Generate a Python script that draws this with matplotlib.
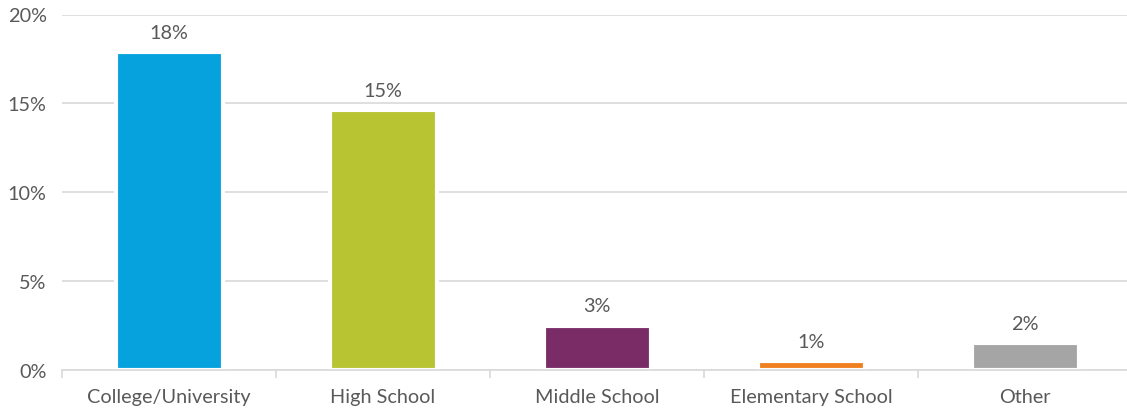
import matplotlib.pyplot as plt
from matplotlib.ticker import FuncFormatter

categories = [
    "College/University",
    "High School",
    "Middle School",
    "Elementary School",
    "Other",
]
shares = [17.9, 14.6, 2.5, 0.5, 1.5]
share_labels = ["18%", "15%", "3%", "1%", "2%"]
bar_colors = ["#05A2DD", "#B8C432", "#7A2C67", "#F07F20", "#A5A5A5"]
y_ticks = [0, 5, 10, 15, 20]

text_color = "#595959"
line_color = "#D9D9D9"
font_size = 14.3

plt.rcParams["font.family"] = ["Lato", "DejaVu Sans"]


def main():
    figure = plt.figure(figsize=(11.27, 4.10), dpi=100)
    width_px, height_px = 1127, 410
    axis = figure.add_axes([
        62 / width_px,
        (height_px - 371) / height_px,
        1070 / width_px,
        355.5 / height_px,
    ])

    positions = range(len(categories))
    axis.bar(
        positions,
        shares,
        width=0.5,
        color=bar_colors,
        edgecolor="white",
        linewidth=3,
        zorder=2,
    )

    for position, value, label in zip(positions, shares, share_labels):
        axis.annotate(
            label,
            (position, value),
            xytext=(0, 8),
            textcoords="offset points",
            ha="center",
            va="bottom",
            fontsize=font_size,
            color=text_color,
        )

    axis.set_xlim(-0.5, len(categories) - 0.5)
    axis.set_ylim(0, 20)
    axis.set_yticks(y_ticks)
    axis.yaxis.set_major_formatter(FuncFormatter(lambda v, _: f"{v:.0f}%"))
    axis.grid(axis="y", color=line_color, linewidth=1.2, zorder=0)
    axis.set_axisbelow(True)

    axis.set_xticks(list(positions))
    axis.set_xticklabels(categories)
    axis.set_xticks([p - 0.5 for p in range(len(categories) + 1)], minor=True)
    axis.tick_params(axis="x", which="major", length=0, pad=13,
                     labelsize=font_size, labelcolor=text_color)
    axis.tick_params(axis="x", which="minor", length=6, width=1.2,
                     color=line_color)
    axis.tick_params(axis="y", length=0, pad=11,
                     labelsize=font_size, labelcolor=text_color)

    for side in ["top", "right", "left"]:
        axis.spines[side].set_visible(False)
    axis.spines["bottom"].set_color(line_color)
    axis.spines["bottom"].set_linewidth(1.2)
    axis.spines["bottom"].set_zorder(3)

    figure.savefig("out.png", dpi=100)
    plt.close(figure)


if __name__ == "__main__":
    main()
